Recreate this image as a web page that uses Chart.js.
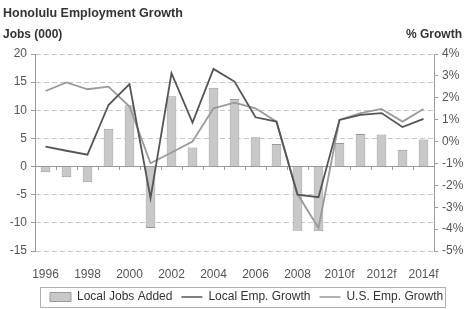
<!DOCTYPE html>
<html>
<head>
<meta charset="utf-8">
<script src="https://cdn.jsdelivr.net/npm/chart.js@4.4.1/dist/chart.umd.min.js"></script>
<style>
  html, body { margin: 0; padding: 0; background: #ffffff; }
  #wrap { width: 464px; height: 309px; position: relative; }
</style>
</head>
<body>
<div id="wrap"><canvas id="c" width="464" height="309"></canvas></div>
<script>
const TITLE = 'Honolulu Employment Growth';
const LEFT_TITLE = 'Jobs (000)';
const RIGHT_TITLE = '% Growth';
const categories = ['1996','1997','1998','1999','2000','2001','2002','2003','2004','2005','2006','2007','2008','2009','2010f','2011f','2012f','2013f','2014f'];
const localJobsAdded = [-1.0, -1.9, -2.8, 6.7, 10.9, -10.9, 12.5, 3.4, 14.0, 12.0, 5.2, 4.0, -11.4, -11.5, 4.2, 5.8, 5.7, 3.0, 4.8];
const localEmpGrowth = [-0.23, -0.42, -0.6, 1.67, 2.62, -2.58, 3.12, 0.87, 3.32, 2.74, 1.11, 0.91, -2.43, -2.54, 0.99, 1.22, 1.3, 0.66, 1.04];
const usEmpGrowth = [2.31, 2.7, 2.39, 2.51, 1.6, -0.99, -0.5, 0.0, 1.52, 1.78, 1.52, 0.91, -2.4, -3.95, 0.99, 1.3, 1.49, 0.91, 1.49];
const seriesNames = ['Local Jobs Added', 'Local Emp. Growth', 'U.S. Emp. Growth'];
const leftTicks = { min: -15, max: 20, step: 5 };
const rightTicks = { min: -5, max: 4, step: 1 };

const FONT = '"Liberation Sans", Arial, Helvetica, sans-serif';
Chart.defaults.font.family = FONT;
Chart.defaults.font.size = 12;
Chart.defaults.color = '#555';

const AXIS = '#9a9a9a';
const GRID = '#c8c8c8';

const deco = {
  id: 'deco',
  afterLayout(chart) {
    const lg = chart.legend;
    if (!lg) return;
    const h = lg.height;
    lg.left = 41;
    lg.top = 282;
    lg.bottom = lg.top + h;
  },
  afterDraw(chart) {
    const ctx = chart.ctx;
    ctx.save();
    ctx.fillStyle = '#333';
    ctx.textBaseline = 'alphabetic';
    ctx.textAlign = 'left';
    ctx.font = 'bold 12.5px ' + FONT;
    ctx.fillText(TITLE, 3, 16.5);
    ctx.font = 'bold 12px ' + FONT;
    ctx.fillText(LEFT_TITLE, 3, 37.5);
    ctx.textAlign = 'right';
    ctx.fillText(RIGHT_TITLE, 462, 37.5);
    const hb = chart.legend && chart.legend.legendHitBoxes;
    if (hb && hb.length) {
      const l = hb[0].left - 10;
      const last = hb[hb.length - 1];
      const r = last.left + last.width + 2;
      const cy = hb[0].top + hb[0].height / 2;
      ctx.strokeStyle = '#b0b0b0';
      ctx.lineWidth = 1;
      ctx.strokeRect(Math.round(l) + 0.5, Math.round(cy - 10) + 0.5, Math.round(r - l), 20);
    }
    ctx.restore();
  }
};

new Chart(document.getElementById('c'), {
  type: 'bar',
  data: {
    labels: categories,
    datasets: [
      {
        type: 'bar',
        label: seriesNames[0],
        data: localJobsAdded,
        yAxisID: 'y',
        xAxisID: 'x',
        backgroundColor: '#c8c8c8',
        borderColor: '#999999',
        borderWidth: 1,
        barPercentage: 0.46,
        categoryPercentage: 1.0,
        order: 3
      },
      {
        type: 'line',
        label: seriesNames[1],
        data: localEmpGrowth,
        yAxisID: 'y1',
        xAxisID: 'x',
        borderColor: '#555555',
        borderWidth: 1.8,
        pointRadius: 0,
        tension: 0,
        fill: false,
        order: 1
      },
      {
        type: 'line',
        label: seriesNames[2],
        data: usEmpGrowth,
        yAxisID: 'y1',
        xAxisID: 'x',
        borderColor: '#9a9a9a',
        borderWidth: 1.8,
        pointRadius: 0,
        tension: 0,
        fill: false,
        order: 2
      }
    ]
  },
  options: {
    responsive: false,
    animation: false,
    layout: { padding: { top: 54, left: 0, right: 0, bottom: 0 } },
    plugins: {
      tooltip: { enabled: false },
      title: { display: false },
      legend: {
        display: true,
        position: 'bottom',
        align: 'start',
        labels: {
          usePointStyle: true,
          pointStyleWidth: 21,
          boxHeight: 9,
          padding: 9,
          color: '#333',
          font: { size: 12 },
          generateLabels(chart) {
            return chart.data.datasets.map((ds, i) => ({
              text: ds.label,
              datasetIndex: i,
              fillStyle: ds.type === 'line' ? 'rgba(0,0,0,0)' : ds.backgroundColor,
              strokeStyle: ds.borderColor,
              lineWidth: ds.type === 'line' ? 1.5 : 1,
              pointStyle: ds.type === 'line' ? 'line' : 'rect',
              hidden: false,
              fontColor: '#333'
            }));
          }
        }
      }
    },
    scales: {
      x: {
        type: 'category',
        position: 'bottom',
        offset: true,
        grid: { display: false, drawTicks: false },
        border: { display: false },
        ticks: {
          autoSkip: false,
          maxRotation: 0,
          padding: 16,
          color: '#555',
          callback(v, i) { return i % 2 === 0 ? categories[i] : ''; }
        },
        afterFit(s) { s.height = 27; }
      },
      x2: {
        type: 'category',
        axis: 'x',
        position: { y: 0 },
        offset: true,
        grid: { offset: true, drawOnChartArea: false, drawTicks: true, tickLength: 3, color: AXIS, tickColor: AXIS },
        border: { display: true, color: AXIS, width: 1 },
        ticks: { display: false }
      },
      y: {
        type: 'linear',
        position: 'left',
        min: leftTicks.min,
        max: leftTicks.max,
        ticks: { stepSize: leftTicks.step, padding: 4, color: '#555' },
        grid: {
          color: (c) => (c.tick && c.tick.value === 0) ? 'rgba(0,0,0,0)' : GRID,
          tickColor: AXIS,
          tickLength: 4,
          tickBorderDash: []
        },
        border: { display: true, color: AXIS, width: 1, dash: [5, 3] },
        afterFit(s) { s.width = 35; }
      },
      y1: {
        type: 'linear',
        position: 'right',
        min: rightTicks.min,
        max: rightTicks.max,
        ticks: { stepSize: rightTicks.step, padding: 4, color: '#555', callback: (v) => v + '%' },
        grid: { drawOnChartArea: false, tickColor: AXIS, tickLength: 4, color: AXIS },
        border: { display: true, color: AXIS, width: 1 },
        afterFit(s) { s.width = 30; }
      }
    }
  },
  plugins: [deco]
});
</script>
</body>
</html>
